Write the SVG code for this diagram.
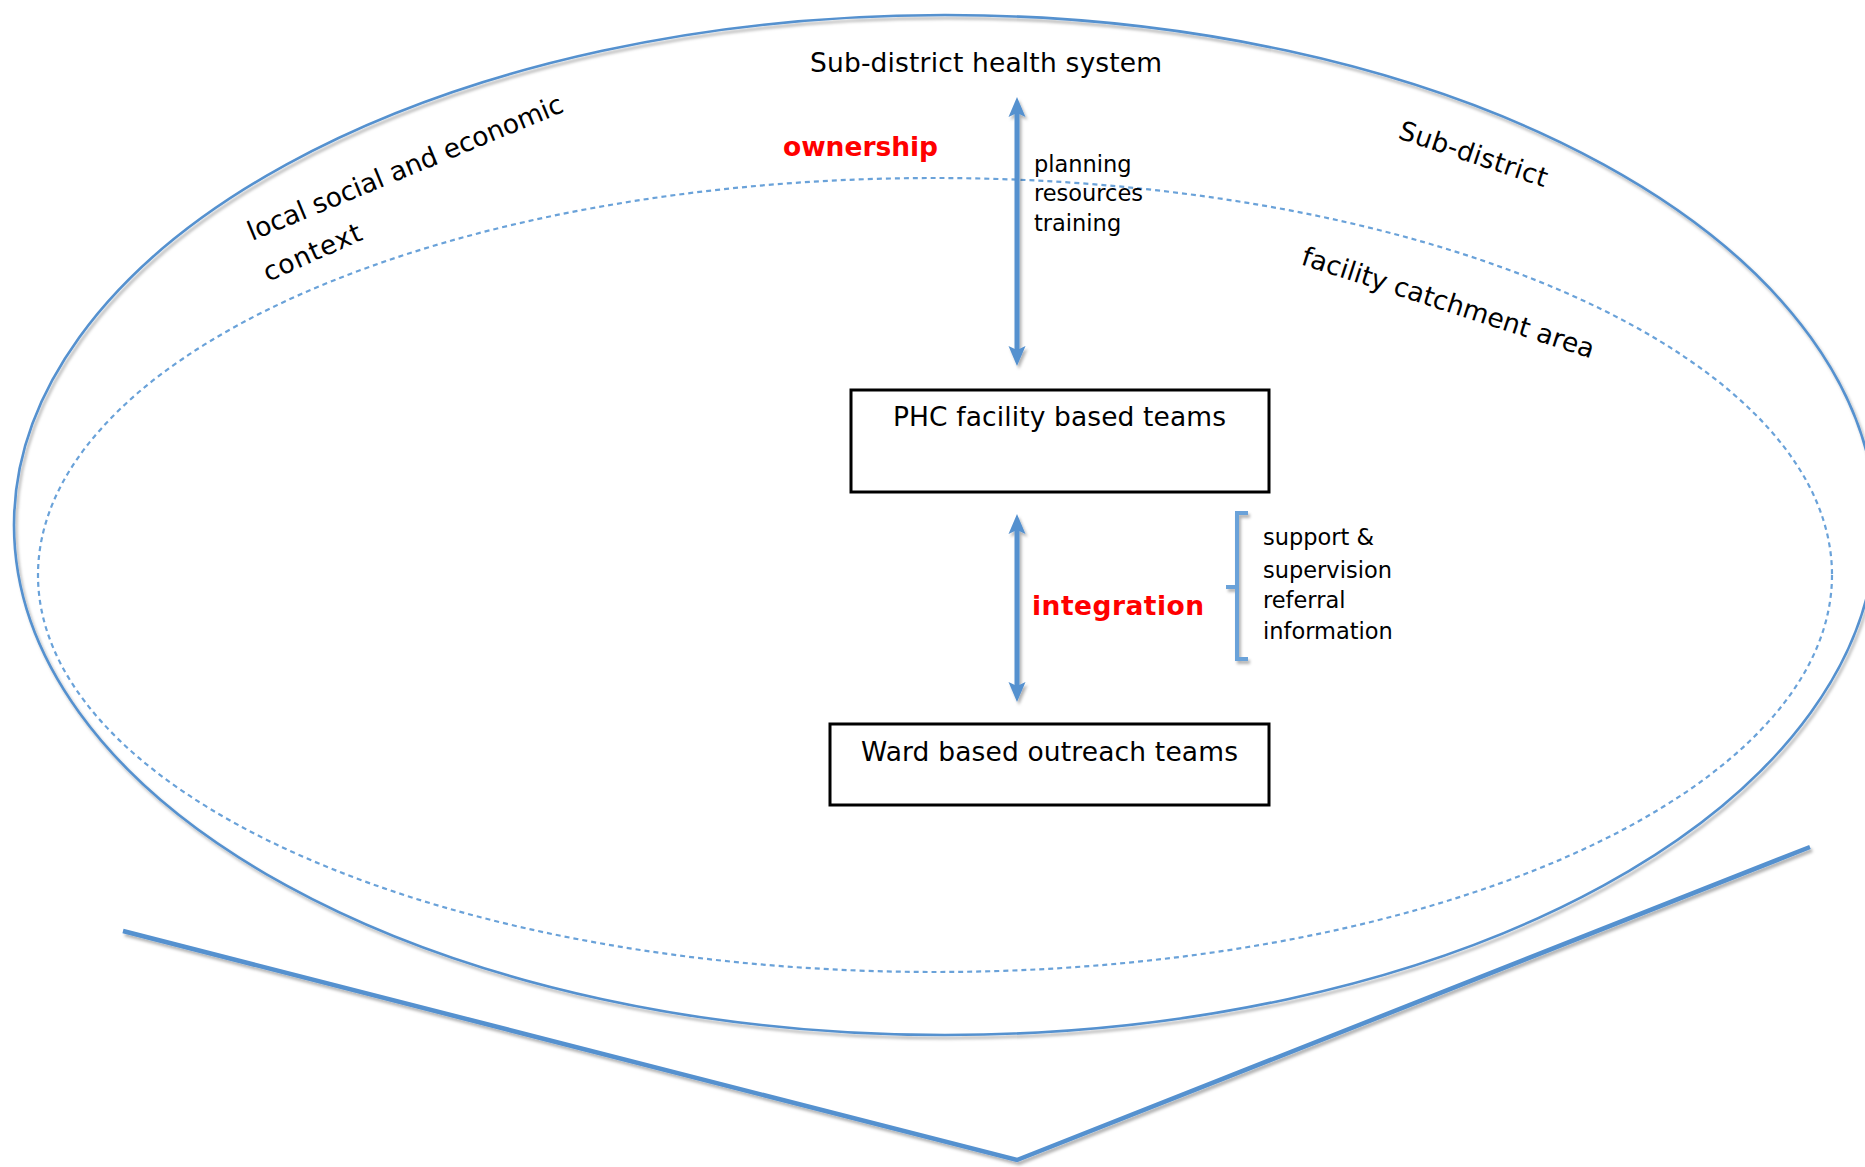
<svg xmlns="http://www.w3.org/2000/svg" width="1865" height="1167" viewBox="0 0 1865 1167">
<style>
  text { font-family: "DejaVu Sans", "Liberation Sans", sans-serif; fill: #000; }
  .lbl { font-size: 26.5px; }
  .small { font-size: 22.5px; }
  .red { font-size: 26.5px; font-weight: bold; fill: #ff0000; }
  .blueline { fill: none; stroke: #5591cf; }
  .box { fill: #fff; stroke: #000; stroke-width: 3; }
</style>
<defs>
  <filter id="sh" filterUnits="userSpaceOnUse" x="0" y="0" width="1865" height="1167">
    <feDropShadow dx="2" dy="3" stdDeviation="1.5" flood-color="#000" flood-opacity="0.3"/>
  </filter>
  <marker id="ah" viewBox="0 0 20 18" refX="8" refY="9" markerWidth="20" markerHeight="18" markerUnits="userSpaceOnUse" orient="auto-start-reverse">
    <path d="M0,0.5 L20,9 L0,17.5 L4,9 Z" fill="#5591cf"/>
  </marker>
</defs>
<rect width="1865" height="1167" fill="#fff"/>

<g id="sub-district">
  <ellipse cx="945" cy="525" rx="931" ry="510" class="blueline" stroke-width="2.6" filter="url(#sh)"/>
  <text class="lbl" x="810" y="72" textLength="352">Sub-district health system</text>
  <text class="lbl" transform="translate(1397,138) rotate(18.5)" textLength="155">Sub-district</text>
  <text class="lbl" transform="translate(252,241) rotate(-22.5)" textLength="339">local social and economic</text>
  <text class="lbl" transform="translate(268,282) rotate(-24)" textLength="105">context</text>
</g>

<g id="facility-catchment">
  <ellipse cx="935" cy="575" rx="897" ry="397" fill="none" stroke="#6aa2d9" stroke-width="2.2" stroke-dasharray="5 4"/>
  <text class="lbl" transform="translate(1300,264) rotate(18)" textLength="306">facility catchment area</text>
</g>

<g id="chevron">
  <polyline points="123,931 1017,1160 1810,847" class="blueline" stroke-width="4.5" stroke-linejoin="miter" filter="url(#sh)"/>
</g>

<g id="phc-teams">
  <rect x="851" y="390" width="418" height="102" class="box"/>
  <text class="lbl" x="893" y="426" textLength="333">PHC facility based teams</text>
</g>

<g id="ward-teams">
  <rect x="830" y="724" width="439" height="81" class="box"/>
  <text class="lbl" x="861" y="761" textLength="377">Ward based outreach teams</text>
</g>

<g id="connectors">
  <line x1="1017" y1="109" x2="1017" y2="354" stroke="#5591cf" stroke-width="5" marker-start="url(#ah)" marker-end="url(#ah)" filter="url(#sh)"/>
  <line x1="1017" y1="526" x2="1017" y2="690" stroke="#5591cf" stroke-width="5" marker-start="url(#ah)" marker-end="url(#ah)" filter="url(#sh)"/>
  <path d="M1248,513 L1237,513 L1237,659 L1248,659 M1237,587 L1226,587" fill="none" stroke="#6aa2d9" stroke-width="4" filter="url(#sh)"/>
</g>

<g id="ownership-label">
  <text class="red" x="783" y="156" textLength="155">ownership</text>
  <text class="small" x="1034" y="172">planning</text>
  <text class="small" x="1034" y="201">resources</text>
  <text class="small" x="1034" y="231">training</text>
</g>

<g id="integration-label">
  <text class="red" x="1032" y="615" textLength="172">integration</text>
  <text class="small" x="1263" y="545">support &amp;</text>
  <text class="small" x="1263" y="578">supervision</text>
  <text class="small" x="1263" y="608">referral</text>
  <text class="small" x="1263" y="639">information</text>
</g>
</svg>
